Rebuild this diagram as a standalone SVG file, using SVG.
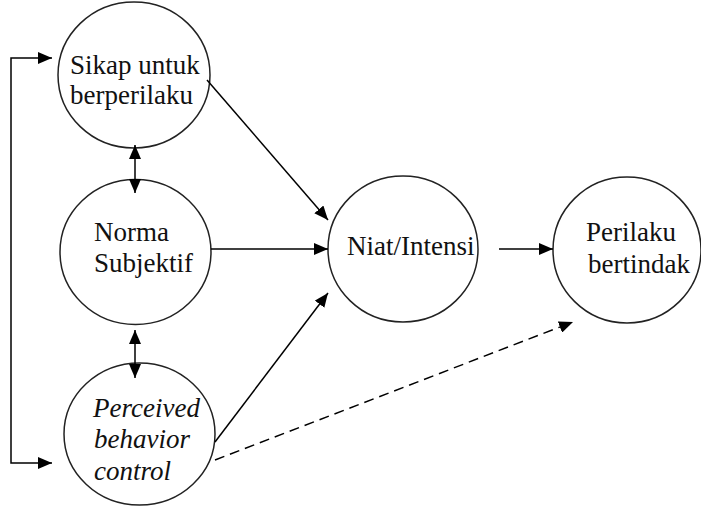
<svg xmlns="http://www.w3.org/2000/svg" width="701" height="506" viewBox="0 0 701 506">
<defs>
<marker id="ah" viewBox="0 0 14 12" refX="14" refY="6" markerWidth="14" markerHeight="12" markerUnits="userSpaceOnUse" orient="auto-start-reverse">
<path d="M0,0 L14,6 L0,12 Z" fill="#000"/>
</marker>
</defs>
<style>
.n{fill:#fff;stroke:#222;stroke-width:1.5}
.t{font-family:'Liberation Serif','DejaVu Serif',serif;font-size:27px;fill:#111}
.i{font-style:italic}
.c{fill:none;stroke:#000;stroke-width:1.5}
.d{stroke-dasharray:10,6}
</style>
<rect width="701" height="506" fill="#fff"/>
<g id="sikap">
<ellipse class="n" cx="134" cy="75" rx="76" ry="73"/>
<text class="t" x="70" y="74">Sikap untuk</text>
<text class="t" x="70" y="104">berperilaku</text>
</g>
<g id="norma">
<ellipse class="n" cx="135.5" cy="252" rx="75.5" ry="72.5"/>
<text class="t" x="94" y="241">Norma</text>
<text class="t" x="94" y="272">Subjektif</text>
</g>
<g id="perceived">
<ellipse class="n" cx="139.5" cy="434" rx="75.5" ry="71"/>
<text class="t i" x="93" y="417">Perceived</text>
<text class="t i" x="94" y="448">behavior</text>
<text class="t i" x="94" y="480">control</text>
</g>
<g id="niat">
<ellipse class="n" cx="403" cy="249" rx="75" ry="73"/>
<text class="t" x="347" y="255">Niat/Intensi</text>
</g>
<g id="perilaku">
<ellipse class="n" cx="627" cy="250" rx="74" ry="73"/>
<text class="t" x="586" y="241">Perilaku</text>
<text class="t" x="588" y="273">bertindak</text>
</g>
<g id="connectors">
<path class="c" d="M52,58 H11 V463 H52" marker-start="url(#ah)" marker-end="url(#ah)"/>
<line class="c" x1="135" y1="145" x2="135" y2="193" marker-start="url(#ah)" marker-end="url(#ah)"/>
<line class="c" x1="135" y1="330" x2="135" y2="378" marker-start="url(#ah)" marker-end="url(#ah)"/>
<line class="c" x1="207" y1="80" x2="328" y2="220" marker-end="url(#ah)"/>
<line class="c" x1="211" y1="249" x2="328" y2="249" marker-end="url(#ah)"/>
<line class="c" x1="215" y1="442" x2="328" y2="293" marker-end="url(#ah)"/>
<line class="c" x1="499" y1="249" x2="553" y2="249" marker-end="url(#ah)"/>
<line class="c d" x1="215" y1="460" x2="573" y2="322" marker-end="url(#ah)"/>
</g>
</svg>
